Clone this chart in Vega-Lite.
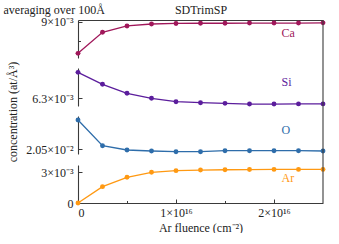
{
  "$schema": "https://vega.github.io/schema/vega-lite/v6.json",
  "padding": {"left": 3, "top": 3, "right": 3, "bottom": 0},
  "spacing": 0,
  "bounds": "flush",
  "datasets": {
    "conc": [
      {"element": "Ca", "fluence": 0, "conc": 0.00818},
      {"element": "Ca", "fluence": 2.5e15, "conc": 0.008725},
      {"element": "Ca", "fluence": 5e15, "conc": 0.00889},
      {"element": "Ca", "fluence": 7.5e15, "conc": 0.00894},
      {"element": "Ca", "fluence": 1e16, "conc": 0.008955},
      {"element": "Ca", "fluence": 1.25e16, "conc": 0.00896},
      {"element": "Ca", "fluence": 1.5e16, "conc": 0.00896},
      {"element": "Ca", "fluence": 1.75e16, "conc": 0.008965},
      {"element": "Ca", "fluence": 2e16, "conc": 0.008965},
      {"element": "Ca", "fluence": 2.25e16, "conc": 0.008965},
      {"element": "Ca", "fluence": 2.5e16, "conc": 0.00897},
      {"element": "Si", "fluence": 0, "conc": 0.006973},
      {"element": "Si", "fluence": 2.5e15, "conc": 0.006663},
      {"element": "Si", "fluence": 5e15, "conc": 0.00643},
      {"element": "Si", "fluence": 7.5e15, "conc": 0.0063},
      {"element": "Si", "fluence": 1e16, "conc": 0.006212},
      {"element": "Si", "fluence": 1.25e16, "conc": 0.006186},
      {"element": "Si", "fluence": 1.5e16, "conc": 0.00617},
      {"element": "Si", "fluence": 1.75e16, "conc": 0.006152},
      {"element": "Si", "fluence": 2e16, "conc": 0.006152},
      {"element": "Si", "fluence": 2.25e16, "conc": 0.006155},
      {"element": "Si", "fluence": 2.5e16, "conc": 0.006155},
      {"element": "O", "fluence": 0, "conc": 0.021965},
      {"element": "O", "fluence": 2.5e15, "conc": 0.02068},
      {"element": "O", "fluence": 5e15, "conc": 0.020465},
      {"element": "O", "fluence": 7.5e15, "conc": 0.020415},
      {"element": "O", "fluence": 1e16, "conc": 0.02038},
      {"element": "O", "fluence": 1.25e16, "conc": 0.02038},
      {"element": "O", "fluence": 1.5e16, "conc": 0.02043},
      {"element": "O", "fluence": 1.75e16, "conc": 0.02043},
      {"element": "O", "fluence": 2e16, "conc": 0.02043},
      {"element": "O", "fluence": 2.25e16, "conc": 0.02043},
      {"element": "O", "fluence": 2.5e16, "conc": 0.020415},
      {"element": "Ar", "fluence": 0, "conc": 0},
      {"element": "Ar", "fluence": 2.5e15, "conc": 0.00158},
      {"element": "Ar", "fluence": 5e15, "conc": 0.00249},
      {"element": "Ar", "fluence": 7.5e15, "conc": 0.00297},
      {"element": "Ar", "fluence": 1e16, "conc": 0.00313},
      {"element": "Ar", "fluence": 1.25e16, "conc": 0.00319},
      {"element": "Ar", "fluence": 1.5e16, "conc": 0.00322},
      {"element": "Ar", "fluence": 1.75e16, "conc": 0.00324},
      {"element": "Ar", "fluence": 2e16, "conc": 0.00325},
      {"element": "Ar", "fluence": 2.25e16, "conc": 0.00325},
      {"element": "Ar", "fluence": 2.5e16, "conc": 0.00325}
    ]
  },
  "vconcat": [
    {
      "width": 245, "height": 38,
      "data": {"name": "conc"},
      "transform": [{"filter": "datum.element == 'Ca'"}],
      "layer": [
        {
          "mark": {"type": "line", "color": "#a0175a", "strokeWidth": 1.3},
          "encoding": {
            "x": {"field": "fluence", "type": "quantitative", "scale": {"domain": [0, 2.5e16], "nice": false},
              "axis": {"orient": "top", "ticks": false, "labels": false, "title": "SDTrimSP", "titlePadding": 7, "titleBaseline": "alphabetic"}},
            "y": {"field": "conc", "type": "quantitative", "scale": {"domain": [0.00806, 0.009044], "nice": false, "zero": false},
              "axis": {"values": [0.0085, 0.009], "labelExpr": "datum.value == 0.009 ? '9×10⁻³' : ''",
                "tickSize": {"condition": {"test": "datum.value == 0.009", "value": -4}, "value": -2.5},
                "labelPadding": 9, "title": "averaging over 100Å", "titleAngle": 0, "titleAlign": "left",
                "titleBaseline": "alphabetic", "titleX": -75, "titleY": -7}}
          }
        },
        {
          "mark": {"type": "point", "filled": true, "size": 24, "opacity": 1, "color": "#a0175a"},
          "encoding": {"x": {"field": "fluence", "type": "quantitative"}, "y": {"field": "conc", "type": "quantitative"}}
        },
        {
          "transform": [{"filter": "datum.fluence == 0"}],
          "mark": {"type": "rule", "color": "#3a3a3a", "strokeWidth": 1.1},
          "encoding": {"x": {"datum": 2.5e16}}
        },
        {
          "transform": [{"filter": "datum.fluence == 0"}],
          "mark": {"type": "text", "align": "left", "baseline": "middle", "font": "Liberation Serif", "fontSize": 12, "color": "#a0175a"},
          "encoding": {"x": {"datum": 2.077e16}, "y": {"datum": 0.008707}, "text": {"value": "Ca"}}
        }
      ]
    },
    {
      "width": 245, "height": 48,
      "data": {"name": "conc"},
      "transform": [{"filter": "datum.element == 'Si'"}],
      "layer": [
        {
          "mark": {"type": "line", "color": "#5b1d9c", "strokeWidth": 1.3},
          "encoding": {
            "x": {"field": "fluence", "type": "quantitative", "scale": {"domain": [0, 2.5e16], "nice": false}, "axis": null},
            "y": {"field": "conc", "type": "quantitative", "scale": {"domain": [0.006101, 0.007085], "nice": false, "zero": false, "range": [48, 10]},
              "axis": {"values": [0.0063], "labelExpr": "'6.3×10⁻³'", "tickSize": -4, "labelPadding": 9,
                "title": "concentration (at/Å³)", "titleAngle": -90, "titleAlign": "center", "titleBaseline": "middle",
                "titleX": -66, "titleY": 53.5}}
          }
        },
        {
          "mark": {"type": "point", "filled": true, "size": 24, "opacity": 1, "color": "#5b1d9c"},
          "encoding": {"x": {"field": "fluence", "type": "quantitative"}, "y": {"field": "conc", "type": "quantitative"}}
        },
        {
          "transform": [{"filter": "datum.fluence == 0"}],
          "mark": {"type": "rule", "color": "#3a3a3a", "strokeWidth": 1.1},
          "encoding": {"x": {"datum": 2.5e16}}
        },
        {
          "transform": [{"filter": "datum.fluence == 0"}],
          "mark": {"type": "text", "align": "left", "baseline": "middle", "font": "Liberation Serif", "fontSize": 12, "color": "#5b1d9c"},
          "encoding": {"x": {"datum": 2.077e16}, "y": {"datum": 0.006722}, "text": {"value": "Si"}}
        }
      ]
    },
    {
      "width": 245, "height": 48,
      "data": {"name": "conc"},
      "transform": [{"filter": "datum.element == 'O'"}],
      "layer": [
        {
          "mark": {"type": "line", "color": "#2e6daa", "strokeWidth": 1.3},
          "encoding": {
            "x": {"field": "fluence", "type": "quantitative", "scale": {"domain": [0, 2.5e16], "nice": false}, "axis": null},
            "y": {"field": "conc", "type": "quantitative", "scale": {"domain": [0.020265, 0.022165], "nice": false, "zero": false, "range": [48, 10]},
              "axis": {"values": [0.0205], "labelExpr": "'2.05×10⁻²'", "tickSize": -4, "labelPadding": 9, "title": null}}
          }
        },
        {
          "mark": {"type": "point", "filled": true, "size": 24, "opacity": 1, "color": "#2e6daa"},
          "encoding": {"x": {"field": "fluence", "type": "quantitative"}, "y": {"field": "conc", "type": "quantitative"}}
        },
        {
          "transform": [{"filter": "datum.fluence == 0"}],
          "mark": {"type": "rule", "color": "#3a3a3a", "strokeWidth": 1.1},
          "encoding": {"x": {"datum": 2.5e16}}
        },
        {
          "transform": [{"filter": "datum.fluence == 0"}],
          "mark": {"type": "text", "align": "left", "baseline": "middle", "font": "Liberation Serif", "fontSize": 12, "color": "#2e6daa"},
          "encoding": {"x": {"datum": 2.077e16}, "y": {"datum": 0.021465}, "text": {"value": "O"}}
        }
      ]
    },
    {
      "width": 245, "height": 49,
      "data": {"name": "conc"},
      "transform": [{"filter": "datum.element == 'Ar'"}],
      "layer": [
        {
          "mark": {"type": "line", "color": "#ff9912", "strokeWidth": 1.3},
          "encoding": {
            "x": {"field": "fluence", "type": "quantitative", "scale": {"domain": [0, 2.5e16], "nice": false},
              "axis": {"orient": "bottom", "values": [0, 5e15, 1e16, 1.5e16, 2e16],
                "labelExpr": "datum.value == 0 ? '0' : datum.value == 1e16 ? '1×10¹⁶' : datum.value == 2e16 ? '2×10¹⁶' : ''",
                "tickSize": {"condition": {"test": "datum.value == 5e15 || datum.value == 1.5e16", "value": -2.5}, "value": -4},
                "labelPadding": 8, "title": "Ar fluence (cm⁻²)", "titlePadding": 4}},
            "y": {"field": "conc", "type": "quantitative", "scale": {"domain": [0, 0.003678], "nice": false, "zero": false, "range": [49, 11]},
              "axis": {"values": [0, 0.001, 0.002, 0.003],
                "labelExpr": "datum.value == 0 ? '0' : datum.value == 0.003 ? '3×10⁻³' : ''",
                "tickSize": {"condition": {"test": "datum.value == 0.001 || datum.value == 0.002", "value": -2.5}, "value": -4},
                "labelPadding": 9, "title": null}}
          }
        },
        {
          "mark": {"type": "point", "filled": true, "size": 24, "opacity": 1, "color": "#ff9912"},
          "encoding": {"x": {"field": "fluence", "type": "quantitative"}, "y": {"field": "conc", "type": "quantitative"}}
        },
        {
          "transform": [{"filter": "datum.fluence == 0"}],
          "mark": {"type": "rule", "color": "#3a3a3a", "strokeWidth": 1.1},
          "encoding": {"x": {"datum": 2.5e16}}
        },
        {
          "transform": [{"filter": "datum.fluence == 0"}],
          "mark": {"type": "text", "align": "left", "baseline": "middle", "font": "Liberation Serif", "fontSize": 12, "color": "#ff9912"},
          "encoding": {"x": {"datum": 2.077e16}, "y": {"datum": 0.00242}, "text": {"value": "Ar"}}
        }
      ]
    }
  ],
  "config": {
    "view": {"stroke": null},
    "axis": {
      "labelFont": "Liberation Serif", "titleFont": "Liberation Serif",
      "labelFontSize": 12, "titleFontSize": 12, "titleFontWeight": "normal",
      "labelColor": "#222222", "titleColor": "#222222",
      "domainColor": "#3a3a3a", "tickColor": "#3a3a3a", "domainWidth": 1.1, "tickWidth": 1,
      "grid": false
    }
  }
}
